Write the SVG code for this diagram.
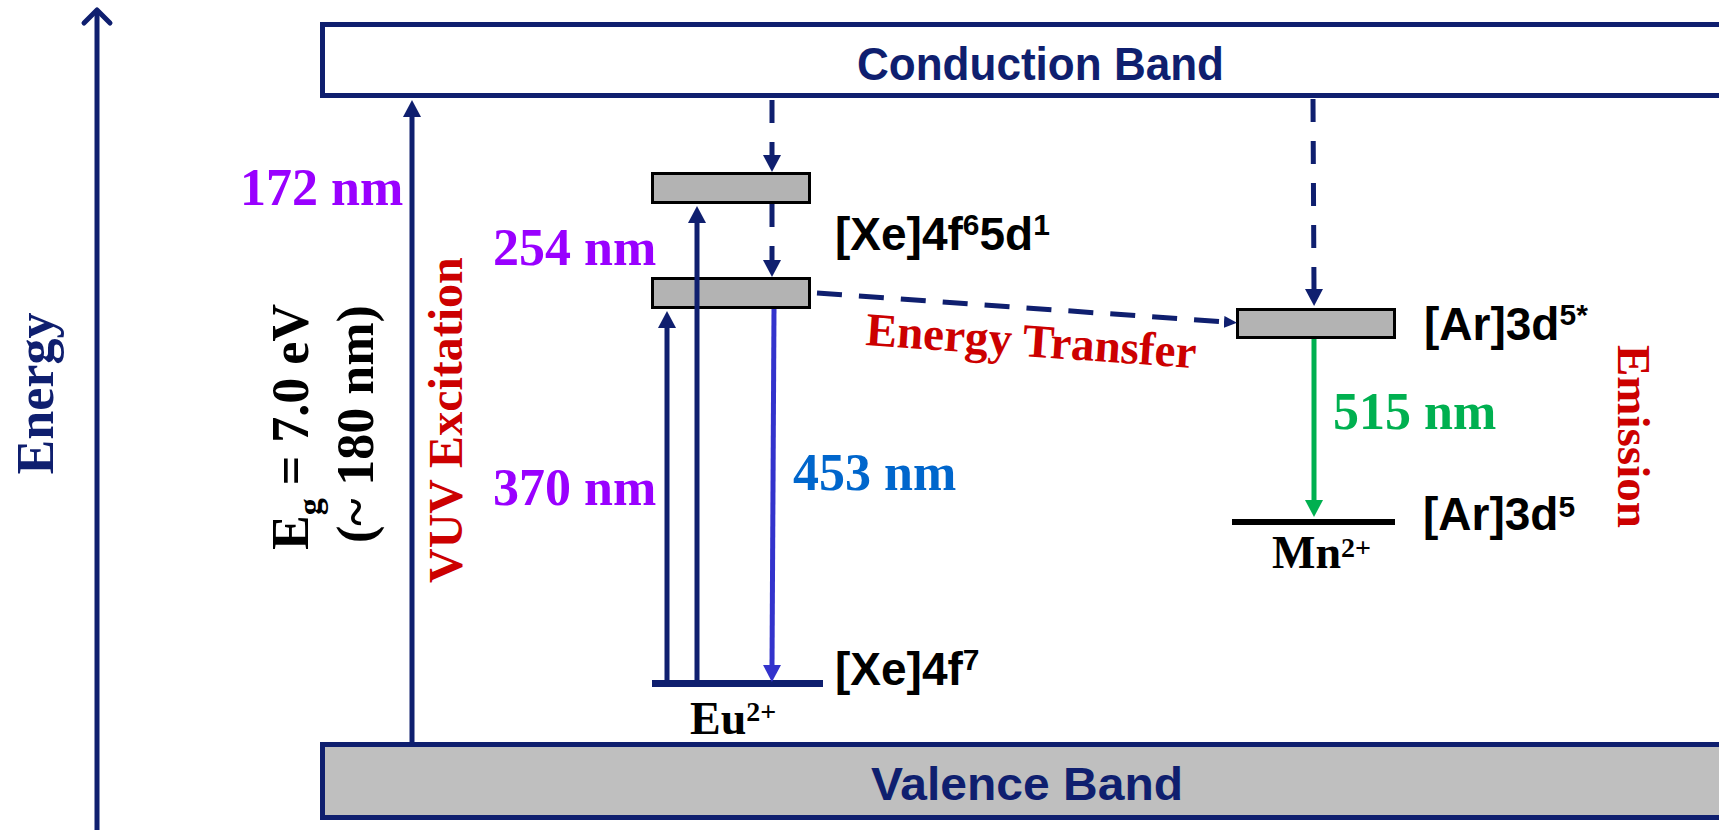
<svg xmlns="http://www.w3.org/2000/svg" width="1719" height="830" viewBox="0 0 1719 830">
<style>
.serif{font-family:"Liberation Serif","Times New Roman",serif;font-weight:bold}
.sans{font-family:"Liberation Sans",Arial,sans-serif;font-weight:bold}
.navy{stroke:#0f1f6f;fill:none;stroke-width:5}
.band{stroke:#0f1f6f;stroke-width:5}
.lvl{fill:#b3b3b3;stroke:#000;stroke-width:3}
.dash{stroke-dasharray:23 19}
</style>
<defs>
<marker id="ahN" viewBox="0 0 17 18" refX="1" refY="9" markerWidth="17" markerHeight="18" markerUnits="userSpaceOnUse" orient="auto"><path d="M0,0 L17,9 L0,18 z" fill="#0f1f6f"/></marker>
<marker id="ahS" viewBox="0 0 13 12" refX="1" refY="6" markerWidth="13" markerHeight="12" markerUnits="userSpaceOnUse" orient="auto"><path d="M0,0 L13,6 L0,12 z" fill="#0f1f6f"/></marker>
<marker id="ahB" viewBox="0 0 17 18" refX="1" refY="9" markerWidth="17" markerHeight="18" markerUnits="userSpaceOnUse" orient="auto"><path d="M0,0 L17,9 L0,18 z" fill="#3333cc"/></marker>
<marker id="ahG" viewBox="0 0 17 18" refX="1" refY="9" markerWidth="17" markerHeight="18" markerUnits="userSpaceOnUse" orient="auto"><path d="M0,0 L17,9 L0,18 z" fill="#00b050"/></marker>
</defs>

<g id="energy-axis">
<line x1="97" y1="830" x2="97" y2="10" class="navy"/>
<polyline points="84,23 97,10 110,23" class="navy" stroke-linecap="round" stroke-linejoin="round"/>
<text class="serif" font-size="52" fill="#0f1f6f" text-anchor="middle" transform="translate(53,393.5) rotate(-90)">Energy</text>
</g>

<g id="conduction-band">
<rect x="322.5" y="24.5" width="1500" height="71" fill="#fff" class="band"/>
<text class="sans" font-size="46" fill="#0f1f6f" x="857" y="80" textLength="367" lengthAdjust="spacingAndGlyphs">Conduction Band</text>
</g>

<g id="valence-band">
<rect x="322.5" y="744.5" width="1500" height="73" fill="#bfbfbf" class="band"/>
<text class="sans" font-size="46" fill="#0f1f6f" x="871" y="800" textLength="312" lengthAdjust="spacingAndGlyphs">Valence Band</text>
</g>

<g id="band-gap-labels">
<text class="serif" font-size="52" fill="#000" transform="translate(308,550) rotate(-90)">E<tspan font-size="34" dy="13">g</tspan><tspan dy="-13"> = 7.0 eV</tspan></text>
<text class="serif" font-size="52" fill="#000" transform="translate(373,543) rotate(-90)">(~ 180 nm)</text>
<text class="serif" font-size="48" fill="#cc0000" transform="translate(462,583) rotate(-90)">VUV Excitation</text>
<text class="serif" font-size="52" fill="#9900ff" x="240" y="205">172 nm</text>
</g>

<g id="eu-ion">
<rect x="652.5" y="173.5" width="157" height="29" class="lvl"/>
<rect x="652.5" y="278.5" width="157" height="29" class="lvl"/>
<line x1="652" y1="683.5" x2="823" y2="683.5" stroke="#0f1f6f" stroke-width="7"/>
<text class="sans" font-size="46" fill="#000" x="835" y="250">[Xe]4f<tspan font-size="30" dy="-15">6</tspan><tspan dy="15">5d</tspan><tspan font-size="30" dy="-15">1</tspan></text>
<text class="sans" font-size="46" fill="#000" x="835" y="685">[Xe]4f<tspan font-size="30" dy="-15">7</tspan></text>
<text class="serif" font-size="46" fill="#000" x="690" y="734">Eu<tspan font-size="28" dy="-13">2+</tspan></text>
<text class="serif" font-size="52" fill="#9900ff" x="493" y="265">254 nm</text>
<text class="serif" font-size="52" fill="#9900ff" x="493" y="505">370 nm</text>
<text class="serif" font-size="52" fill="#0066cc" x="793" y="490">453 nm</text>
</g>

<g id="mn-ion">
<rect x="1237.5" y="309.5" width="157" height="28" class="lvl"/>
<line x1="1232" y1="522" x2="1395" y2="522" stroke="#000" stroke-width="6"/>
<text class="sans" font-size="46" fill="#000" x="1424" y="340">[Ar]3d<tspan font-size="30" dy="-15">5*</tspan></text>
<text class="sans" font-size="46" fill="#000" x="1423" y="530">[Ar]3d<tspan font-size="30" dy="-13">5</tspan></text>
<text class="serif" font-size="46" fill="#000" x="1272" y="568">Mn<tspan font-size="28" dy="-11">2+</tspan></text>
<text class="serif" font-size="52" fill="#00b050" x="1333" y="429">515 nm</text>
<text class="serif" font-size="47" fill="#cc0000" transform="translate(1618,345) rotate(90)">Emission</text>
</g>

<g id="energy-transfer-label">
<text class="serif" font-size="47" fill="#cc0000" transform="translate(865,345) rotate(4)">Energy Transfer</text>
</g>

<g id="connectors">
<line x1="412" y1="744" x2="412" y2="116" class="navy" marker-end="url(#ahN)"/>
<line x1="772" y1="100" x2="772" y2="156" class="navy dash" marker-end="url(#ahN)"/>
<line x1="772" y1="204" x2="772" y2="261" class="navy dash" marker-end="url(#ahN)"/>
<line x1="697" y1="683" x2="697" y2="222" class="navy" marker-end="url(#ahN)"/>
<line x1="667" y1="683" x2="667" y2="327" class="navy" marker-end="url(#ahN)"/>
<line x1="774" y1="309" x2="772" y2="666" stroke="#3333cc" stroke-width="5" marker-end="url(#ahB)"/>
<line x1="817" y1="293" x2="1225" y2="322" class="navy" stroke-dasharray="25 17" marker-end="url(#ahS)"/>
<line x1="1313" y1="99" x2="1314" y2="290" class="navy dash" marker-end="url(#ahN)"/>
<line x1="1314" y1="339" x2="1314" y2="501" stroke="#00b050" stroke-width="5" marker-end="url(#ahG)"/>
</g>
</svg>
